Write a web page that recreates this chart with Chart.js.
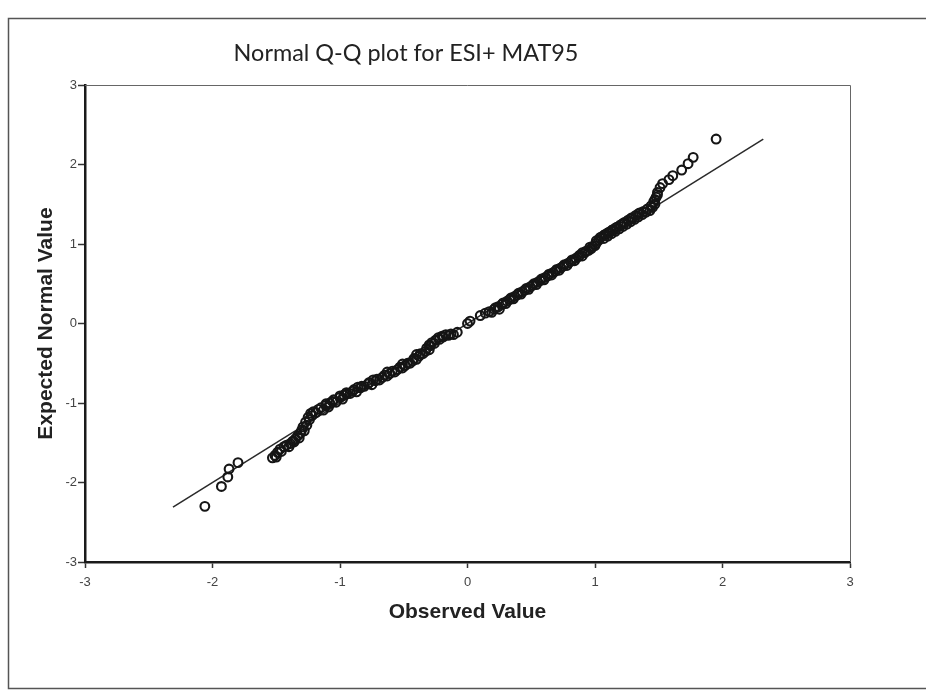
<!DOCTYPE html>
<html>
<head>
<meta charset="utf-8">
<script src="https://cdn.jsdelivr.net/npm/chart.js@4/dist/chart.umd.min.js"></script>
<style>
  html, body { margin: 0; padding: 0; background: #fff; }
  #wrap { width: 926px; height: 690px; position: relative; }
</style>
</head>
<body>
<div id="wrap"><canvas id="c" width="926" height="690"></canvas></div>
<script>
const chartTitle = "Normal Q-Q plot for ESI+ MAT95";
const xTitle = "Observed Value";
const yTitle = "Expected Normal Value";
const tickValues = [-3, -2, -1, 0, 1, 2, 3];

// Observed values (x) of each point
const observed = [
  -2.06, -1.93, -1.88, -1.87, -1.80,
  -1.53, -1.51, -1.49, -1.47, -1.44, -1.42, -1.39, -1.37, -1.35, -1.33, -1.31, -1.30, -1.29, -1.27, -1.25, -1.23,
  -1.50, -1.46, -1.40, -1.36, -1.32, -1.28, -1.26, -1.24, -1.22,
  -1.21, -1.17, -1.15, -1.11, -1.11, -1.06, -1.05, -1.00, -1.00, -0.95, -0.95, -0.90, -0.89, -0.84, -0.83, -0.78,
  -0.77, -0.72, -0.71, -0.67, -0.65, -0.61, -0.59, -0.55, -0.53, -0.49, -0.47, -0.43, -0.42, -0.38, -0.37, -0.33,
  -0.32, -0.29, -0.28, -0.25, -0.23, -0.20, -0.17, -0.13, -0.08,
  -1.19, -1.13, -1.09, -1.08, -1.03, -0.98, -0.97, -0.92, -0.87, -0.86, -0.81, -0.75, -0.74, -0.69, -0.63,
  -0.63, -0.57, -0.51, -0.51, -0.45, -0.40, -0.40, -0.35, -0.30, -0.30, -0.26, -0.22, -0.19, -0.15, -0.11,
  0.00, 0.02, 0.10, 0.14,
  0.17, 0.21, 0.22, 0.27, 0.28, 0.33, 0.34, 0.39, 0.40, 0.45, 0.46, 0.51, 0.52, 0.57, 0.58, 0.63, 0.64, 0.69,
  0.70, 0.75, 0.76, 0.81, 0.82, 0.87, 0.88, 0.92, 0.93, 0.97, 0.98,
  0.19, 0.24, 0.25, 0.30, 0.31, 0.36, 0.37, 0.42, 0.43, 0.48, 0.49, 0.54, 0.55, 0.60, 0.61, 0.66, 0.67, 0.72,
  0.73, 0.78, 0.79, 0.84, 0.85, 0.90, 0.90, 0.95, 0.96, 1.00,
  1.01, 1.03, 1.05, 1.08, 1.11, 1.14, 1.17, 1.20, 1.23, 1.26, 1.29, 1.32, 1.35, 1.38, 1.41, 1.44, 1.46, 1.48,
  1.01, 1.04, 1.07, 1.07, 1.10, 1.10, 1.13, 1.13, 1.16, 1.16, 1.19, 1.22, 1.22, 1.25, 1.28, 1.28, 1.31, 1.34,
  1.34, 1.37, 1.40, 1.43, 1.45, 1.47, 1.47, 1.49,
  1.49, 1.51, 1.53, 1.58, 1.61, 1.68, 1.73, 1.77, 1.95
];
// Expected normal values (y) of each point
const expected = [
  -2.30, -2.05, -1.93, -1.83, -1.75,
  -1.69, -1.66, -1.62, -1.58, -1.55, -1.53, -1.51, -1.48, -1.45, -1.41, -1.38, -1.34, -1.30, -1.24, -1.18, -1.13,
  -1.68, -1.61, -1.55, -1.49, -1.44, -1.35, -1.28, -1.21, -1.16,
  -1.11, -1.08, -1.06, -1.03, -1.01, -0.98, -0.96, -0.93, -0.91, -0.89, -0.87, -0.85, -0.83, -0.81, -0.79, -0.76,
  -0.74, -0.72, -0.70, -0.68, -0.65, -0.63, -0.60, -0.58, -0.55, -0.53, -0.50, -0.47, -0.44, -0.41, -0.38, -0.35,
  -0.31, -0.28, -0.24, -0.21, -0.18, -0.16, -0.14, -0.13, -0.11,
  -1.12, -1.09, -1.05, -1.00, -0.99, -0.95, -0.90, -0.88, -0.86, -0.80, -0.79, -0.77, -0.71, -0.71, -0.66,
  -0.61, -0.61, -0.56, -0.51, -0.50, -0.45, -0.39, -0.38, -0.33, -0.27, -0.25, -0.20, -0.17, -0.15, -0.14,
  0.00, 0.03, 0.10, 0.13,
  0.15, 0.18, 0.20, 0.24, 0.26, 0.30, 0.32, 0.36, 0.38, 0.42, 0.44, 0.48, 0.50, 0.54, 0.56, 0.60, 0.62, 0.66,
  0.68, 0.72, 0.74, 0.78, 0.80, 0.84, 0.86, 0.89, 0.91, 0.94, 0.97,
  0.14, 0.21, 0.18, 0.25, 0.28, 0.31, 0.34, 0.37, 0.40, 0.43, 0.46, 0.49, 0.52, 0.55, 0.58, 0.61, 0.64, 0.67,
  0.70, 0.73, 0.76, 0.79, 0.82, 0.85, 0.89, 0.92, 0.96, 0.98,
  1.01, 1.05, 1.09, 1.12, 1.15, 1.18, 1.21, 1.24, 1.27, 1.30, 1.33, 1.36, 1.39, 1.41, 1.44, 1.48, 1.53, 1.59,
  1.04, 1.08, 1.07, 1.11, 1.10, 1.14, 1.13, 1.17, 1.16, 1.20, 1.19, 1.22, 1.26, 1.25, 1.28, 1.32, 1.31, 1.34,
  1.38, 1.37, 1.40, 1.42, 1.46, 1.50, 1.56, 1.62,
  1.65, 1.71, 1.76, 1.81, 1.86, 1.93, 2.01, 2.09, 2.32
];
// Reference line end points
const lineX = [-2.31, 2.32];
const lineY = [-2.31, 2.32];

const points = observed.map((v, i) => ({ x: v, y: expected[i] }));
const linePts = lineX.map((v, i) => ({ x: v, y: lineY[i] }));

const AREA = { left: 85, top: 85, right: 850, bottom: 562 };

const decor = {
  id: 'decor',
  beforeDraw(chart) {
    const ctx = chart.ctx;
    ctx.save();
    ctx.fillStyle = '#ffffff';
    ctx.fillRect(0, 0, chart.width, chart.height);
    ctx.strokeStyle = '#555';
    ctx.lineWidth = 1.5;
    ctx.beginPath();
    ctx.moveTo(930, 18.5);
    ctx.lineTo(8.5, 18.5);
    ctx.lineTo(8.5, 688.5);
    ctx.lineTo(930, 688.5);
    ctx.stroke();
    ctx.fillStyle = '#222';
    let size = 20;
    ctx.font = size + 'px Lato';
    const w = ctx.measureText(chartTitle).width;
    size = size * 345 / w;
    ctx.font = size.toFixed(2) + 'px Lato';
    ctx.textAlign = 'center';
    ctx.textBaseline = 'middle';
    ctx.fillText(chartTitle, 406, 53);
    ctx.restore();
  },
  afterDatasetsDraw(chart) {
    const { ctx, chartArea } = chart;
    ctx.save();
    ctx.strokeStyle = '#666';
    ctx.lineWidth = 1;
    ctx.beginPath();
    ctx.moveTo(chartArea.left, chartArea.top + 0.5);
    ctx.lineTo(chartArea.right + 0.5, chartArea.top + 0.5);
    ctx.lineTo(chartArea.right + 0.5, chartArea.bottom);
    ctx.stroke();
    ctx.restore();
  }
};

new Chart(document.getElementById('c'), {
  type: 'scatter',
  data: {
    datasets: [
      {
        type: 'line',
        data: linePts,
        borderColor: '#2a2a2a',
        borderWidth: 1.5,
        pointRadius: 0,
        fill: false,
        order: 2
      },
      {
        data: points,
        pointStyle: 'circle',
        pointRadius: 4.4,
        pointBorderWidth: 2.1,
        pointBorderColor: '#151515',
        pointBackgroundColor: 'rgba(0,0,0,0)',
        order: 1
      }
    ]
  },
  options: {
    responsive: false,
    animation: false,
    layout: { padding: { left: 34, top: AREA.top, right: 926 - AREA.right, bottom: 65 } },
    plugins: { legend: { display: false }, title: { display: false }, tooltip: { enabled: false } },
    scales: {
      x: {
        type: 'linear', min: -3, max: 3,
        afterBuildTicks: s => { s.ticks = tickValues.map(v => ({ value: v })); },
        afterFit: s => { s.height = 63; },
        ticks: { color: '#444', font: { family: 'Liberation Sans', size: 13 }, padding: 7, maxRotation: 0 },
        grid: { display: true, drawOnChartArea: false, drawTicks: true, tickLength: 6, tickColor: '#333', tickWidth: 1.5 },
        border: { display: true, color: '#1a1a1a', width: 2.5 },
        title: { display: true, text: xTitle, color: '#222', padding: 0,
                 font: { family: 'Liberation Sans', size: 21, weight: 'bold' } }
      },
      y: {
        type: 'linear', min: -3, max: 3,
        afterBuildTicks: s => { s.ticks = tickValues.map(v => ({ value: v })); },
        afterFit: s => { s.width = 51; },
        ticks: { color: '#444', font: { family: 'Liberation Sans', size: 13 }, padding: 1 },
        grid: { display: true, drawOnChartArea: false, drawTicks: true, tickLength: 7, tickColor: '#333', tickWidth: 1.5 },
        border: { display: true, color: '#1a1a1a', width: 2.5 },
        title: { display: true, text: yTitle, color: '#222', padding: 0,
                 font: { family: 'Liberation Sans', size: 21, weight: 'bold' } }
      }
    }
  },
  plugins: [decor]
});
</script>
</body>
</html>
